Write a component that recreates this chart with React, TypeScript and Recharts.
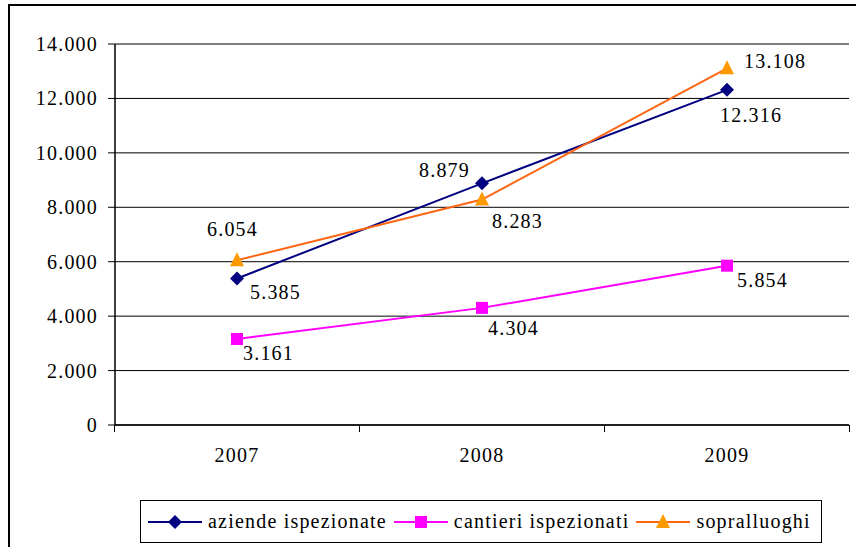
import React from "react"
import {
  LineChart,
  Line,
  XAxis,
  YAxis,
  CartesianGrid,
  LabelList,
} from "recharts"

const years = ["2007", "2008", "2009"]
const aziende = [5385, 8879, 12316]
const cantieri = [3161, 4304, 5854]
const sopralluoghi = [6054, 8283, 13108]
const yTicks = [0, 2000, 4000, 6000, 8000, 10000, 12000, 14000]
const seriesNames = ["aziende ispezionate", "cantieri ispezionati", "sopralluoghi"]

const data = years.map((y, i) => ({
  year: y,
  aziende: aziende[i],
  cantieri: cantieri[i],
  sopralluoghi: sopralluoghi[i],
}))

const FONT = "'Liberation Serif'"
const NAVY = "#000080"
const MAGENTA = "#FF00FF"
const ORANGE_LINE = "#FF6613"
const ORANGE_MARK = "#FF9900"
const TXT = { fontSize: 20, fontFamily: FONT, letterSpacing: 1.2 }

// label offsets (dx, dy, anchor) per point, in series order
const azOff: [number, number, string][] = [[13, 21, "start"], [-12, -6, "end"], [-7, 32, "start"]]
const caOff: [number, number, string][] = [[6, 21, "start"], [6, 27, "start"], [10, 21, "start"]]
const soOff: [number, number, string][] = [[-30, -24, "start"], [10, 28, "start"], [17, 0, "start"]]

function fmt(v: number) {
  return String(v).replace(/\B(?=(\d{3})+(?!\d))/g, ".")
}

function labelContent(offs: [number, number, string][]) {
  return (props: any) => {
    const { x, y, value, index } = props
    const o = offs[index] || [0, 0, "start"]
    return (
      <text x={x + o[0]} y={y + o[1]} textAnchor={o[2]} style={TXT} fill="#000">
        {fmt(value)}
      </text>
    )
  }
}

const Diamond = (p: any) => {
  const { cx, cy } = p
  if (cx == null || cy == null) return null
  return <polygon points={`${cx},${cy - 7} ${cx + 7},${cy} ${cx},${cy + 7} ${cx - 7},${cy}`} fill={NAVY} />
}

const Square = (p: any) => {
  const { cx, cy } = p
  if (cx == null || cy == null) return null
  return <rect x={cx - 6} y={cy - 6} width={12} height={12} fill={MAGENTA} />
}

const Triangle = (p: any) => {
  const { cx, cy } = p
  if (cx == null || cy == null) return null
  return <polygon points={`${cx},${cy - 8} ${cx + 7},${cy + 6} ${cx - 7},${cy + 6}`} fill={ORANGE_MARK} />
}

const YearTick = (p: any) => {
  const { x, y, payload } = p
  return (
    <g>
      <line x1={x - 122.5} y1={y} x2={x - 122.5} y2={y + 7} stroke="#000" />
      <line x1={x + 122.5} y1={y} x2={x + 122.5} y2={y + 7} stroke="#000" />
      <text x={x} y={y + 37} textAnchor="middle" style={TXT} fill="#000">
        {payload.value}
      </text>
    </g>
  )
}

const YTick = (p: any) => {
  const { x, y, payload } = p
  return (
    <text x={x} y={y + 7} textAnchor="end" style={TXT} fill="#000">
      {fmt(payload.value)}
    </text>
  )
}

function LegendItem({ color, mark, name }: { color: string; mark: string; name: string }) {
  return (
    <div style={{ display: "flex", alignItems: "center", marginRight: 6 }}>
      <svg width={56} height={20}>
        <line x1={1} y1={10} x2={55} y2={10} stroke={color} strokeWidth={2} />
        {mark === "diamond" && <polygon points="28,3 35,10 28,17 21,10" fill={NAVY} />}
        {mark === "square" && <rect x={22} y={4} width={12} height={12} fill={MAGENTA} />}
        {mark === "triangle" && <polygon points="28,2 35,16 21,16" fill={ORANGE_MARK} />}
      </svg>
      <span style={{ marginLeft: 5, letterSpacing: 1.2 }}>{name}</span>
    </div>
  )
}

export default function App() {
  return (
    <div
      style={{
        position: "absolute",
        left: 0,
        top: 0,
        width: 856,
        height: 547,
        overflow: "hidden",
        background: "#fff",
        fontFamily: FONT,
      }}
    >
      <div
        style={{
          position: "absolute",
          left: 8,
          top: 4,
          width: 900,
          height: 600,
          border: "2px solid #000",
        }}
      />
      <div style={{ position: "absolute", left: 0, top: 0 }}>
        <LineChart width={856} height={547} data={data} margin={{ top: 44, right: 7, bottom: 92, left: 0 }}>
          <CartesianGrid vertical={false} stroke="#000" strokeWidth={1} />
          <XAxis
            dataKey="year"
            height={30}
            padding={{ left: 122, right: 122 }}
            axisLine={{ stroke: "#000", strokeWidth: 1.5 }}
            tickLine={false}
            tickSize={0}
            tickMargin={0}
            tick={<YearTick />}
            interval={0}
          />
          <XAxis
            xAxisId="top"
            dataKey="year"
            orientation="top"
            height={0}
            tick={false}
            tickLine={false}
            axisLine={{ stroke: "#808080", strokeWidth: 2 }}
          />
          <YAxis
            width={115}
            domain={[0, 14000]}
            ticks={yTicks}
            interval={0}
            tick={<YTick />}
            tickSize={7}
            tickMargin={10}
            axisLine={{ stroke: "#000", strokeWidth: 1.5 }}
            tickLine={{ stroke: "#000" }}
          />
          <YAxis
            yAxisId="right"
            orientation="right"
            width={0}
            domain={[0, 14000]}
            tick={false}
            tickLine={false}
            axisLine={{ stroke: "#808080", strokeWidth: 2 }}
          />
          <Line
            dataKey="aziende"
            stroke={NAVY}
            strokeWidth={2}
            dot={<Diamond />}
            activeDot={false}
            isAnimationActive={false}
          >
            <LabelList dataKey="aziende" content={labelContent(azOff)} />
          </Line>
          <Line
            dataKey="cantieri"
            stroke={MAGENTA}
            strokeWidth={2}
            dot={<Square />}
            activeDot={false}
            isAnimationActive={false}
          >
            <LabelList dataKey="cantieri" content={labelContent(caOff)} />
          </Line>
          <Line
            dataKey="sopralluoghi"
            stroke={ORANGE_LINE}
            strokeWidth={2}
            dot={<Triangle />}
            activeDot={false}
            isAnimationActive={false}
          >
            <LabelList dataKey="sopralluoghi" content={labelContent(soOff)} />
          </Line>
        </LineChart>
      </div>
      <div
        style={{
          position: "absolute",
          left: 140,
          top: 500,
          width: 682,
          height: 43,
          border: "1.5px solid #000",
          display: "flex",
          alignItems: "center",
          paddingLeft: 6,
          boxSizing: "border-box",
          fontSize: 20,
          color: "#000",
          whiteSpace: "nowrap",
        }}
      >
        <LegendItem color={NAVY} mark="diamond" name={seriesNames[0]} />
        <LegendItem color={MAGENTA} mark="square" name={seriesNames[1]} />
        <LegendItem color={ORANGE_LINE} mark="triangle" name={seriesNames[2]} />
      </div>
    </div>
  )
}
